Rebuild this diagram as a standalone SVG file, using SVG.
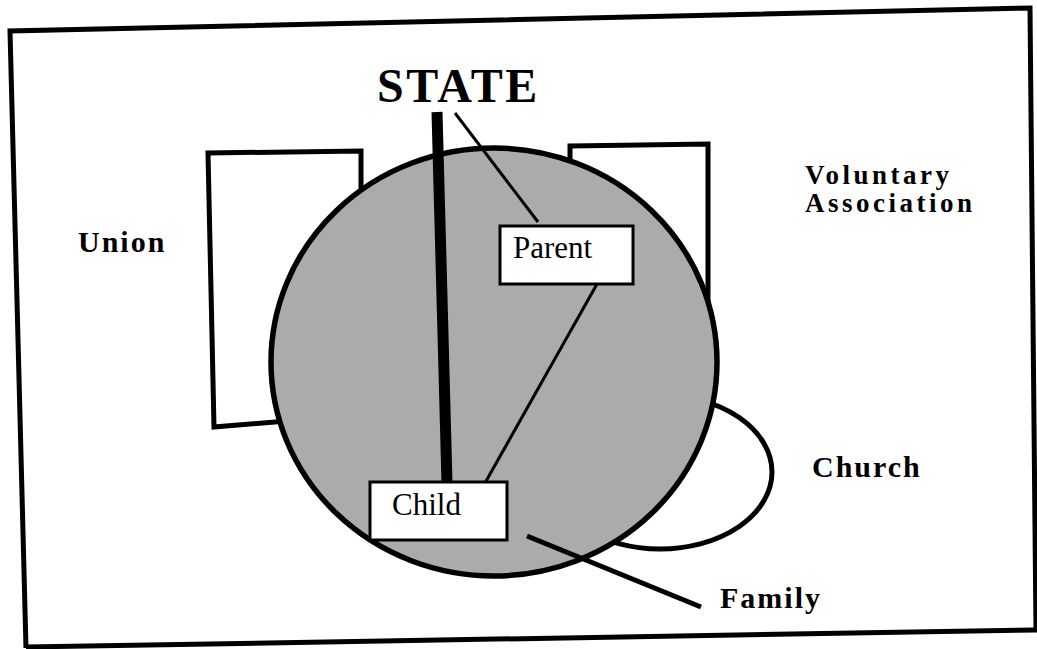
<svg xmlns="http://www.w3.org/2000/svg" width="1037" height="649" viewBox="0 0 1037 649">
  <style>
    .ln { fill: none; stroke: #000; stroke-linejoin: miter; }
    .box { fill: #fff; stroke: #000; stroke-width: 3; }
    .lbl { font-family: "Liberation Serif", "Times New Roman", serif; font-weight: bold; font-size: 30px; letter-spacing: 2px; fill: #000; }
    .va { font-size: 27px; letter-spacing: 3.5px; }
    .big { font-size: 48px; letter-spacing: 2.5px; }
    .role { font-family: "Liberation Serif", "Times New Roman", serif; font-size: 31px; fill: #000; }
  </style>
  <rect width="1037" height="649" fill="#fff"/>
  <g id="frame">
    <polyline class="ln" stroke-width="5" points="26,648 10,31 1030,8 1036,630"/>
    <line class="ln" stroke-width="5" x1="26" y1="647" x2="1037" y2="630"/>
  </g>
  <g id="church">
    <ellipse cx="660" cy="472" rx="112" ry="77" fill="#fff" stroke="#000" stroke-width="5"/>
    <text class="lbl" x="812" y="477">Church</text>
  </g>
  <g id="union">
    <polygon class="ln" fill="#fff" stroke-width="5" points="208,153 361,151 361,230 300,420 214,427"/>
    <text class="lbl" x="78" y="252">Union</text>
  </g>
  <g id="voluntary">
    <polygon class="ln" fill="#fff" stroke-width="5" points="570,146 708,144 708,337 650,338 570,230"/>
    <text class="lbl va" x="805" y="184">Voluntary</text>
    <text class="lbl va" x="805" y="212">Association</text>
  </g>
  <g id="family">
    <ellipse cx="494" cy="362" rx="223" ry="214" fill="#ababab" stroke="#000" stroke-width="5.5"/>
    <text class="lbl" x="720" y="608">Family</text>
  </g>
  <g id="connectors">
    <line class="ln" stroke-width="11" x1="437" y1="112" x2="447" y2="483"/>
    <line class="ln" stroke-width="3" x1="455" y1="113" x2="538" y2="222"/>
    <line class="ln" stroke-width="3" x1="597" y1="284" x2="485" y2="483"/>
    <line class="ln" stroke-width="5" x1="527" y1="536" x2="701" y2="607"/>
  </g>
  <g id="state">
    <text class="lbl big" x="377" y="102">STATE</text>
  </g>
  <g id="parent">
    <rect class="box" x="500" y="226" width="133" height="58"/>
    <text class="role" x="513" y="258">Parent</text>
  </g>
  <g id="child">
    <rect class="box" x="370" y="482" width="137" height="58"/>
    <text class="role" x="392" y="515">Child</text>
  </g>
</svg>
